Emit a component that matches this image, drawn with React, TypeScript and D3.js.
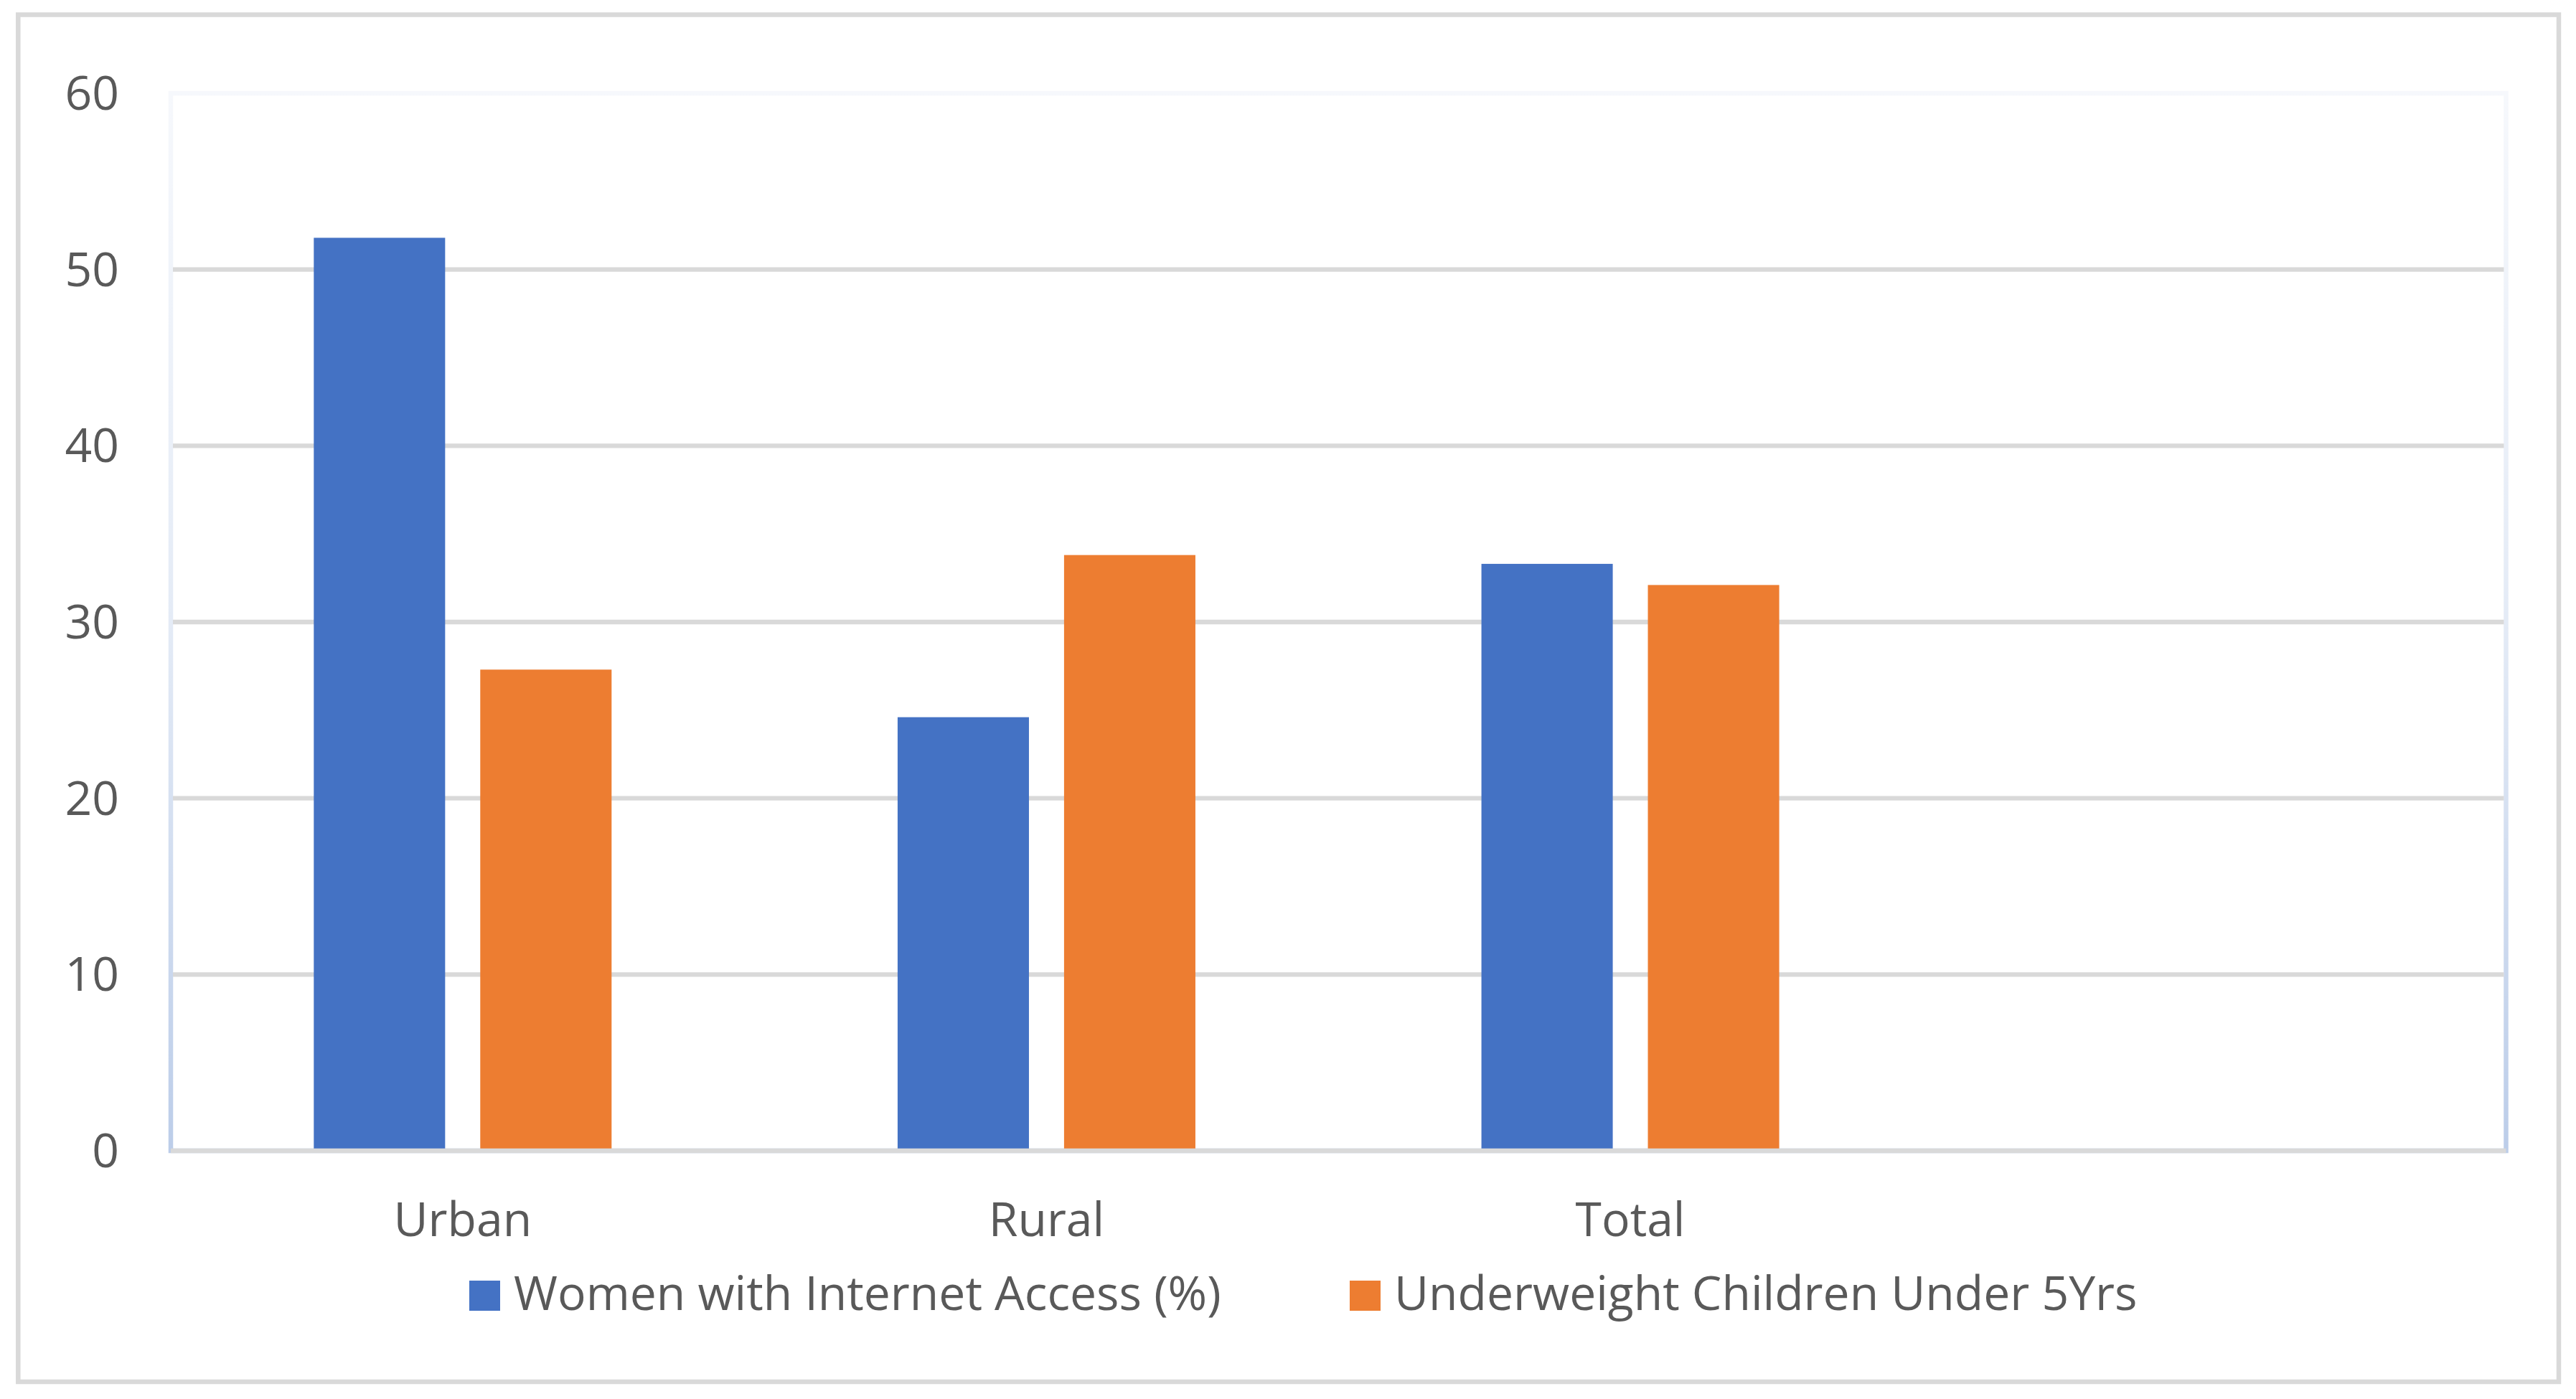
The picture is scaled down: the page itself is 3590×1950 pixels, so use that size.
import React from "react";
import * as d3 from "d3";

const categories = ["Urban", "Rural", "Total", ""];
const seriesNames = ["Women with Internet Access (%)", "Underweight Children Under 5Yrs"];
const womenInternet = [51.8, 24.6, 33.3, null];
const underweightChildren = [27.3, 33.8, 32.1, null];
const yTicks = [0, 10, 20, 30, 40, 50, 60];
const colors = ["#4472C4", "#ED7D31"];

const W = 3590;
const H = 1950;
const FONT = "'Open Sans', 'Noto Sans', sans-serif";
const TEXT = "#595959";

export default function App() {
  const plotL = 238, plotR = 3492.5, plotT = 130, plotB = 1604;
  const y = d3.scaleLinear().domain([0, 60]).range([plotB, plotT]);
  const x0 = d3.scaleBand<string>().domain(categories.map((c, i) => c + "#" + i)).range([plotL, plotR]).padding(0);
  const bw0 = x0.bandwidth();
  const groupW = 415;
  const gOff = (bw0 - groupW) / 2;
  const x1 = d3.scaleBand<string>().domain(seriesNames).range([gOff, gOff + groupW]).paddingInner(0.211).paddingOuter(0);
  const data = [womenInternet, underweightChildren];

  return (
    <svg width={W} height={H} style={{ position: "absolute", left: 0, top: 0, background: "#fff" }}>
      <defs>
        <linearGradient id="pb" x1="0" y1="0" x2="0" y2="1">
          <stop offset="0" stopColor="#f6f8fc" />
          <stop offset="0.5" stopColor="#e4ebf6" />
          <stop offset="1" stopColor="#bccde9" />
        </linearGradient>
      </defs>
      <rect x={0} y={0} width={W} height={H} fill="#fff" />
      <rect x={25.3} y={20.5} width={3566 - 25.3} height={1926 - 20.5} fill="#fff" stroke="#d9d9d9" strokeWidth={6.5} />
      {/* plot area border */}
      <rect x={plotL} y={plotT} width={plotR - plotL} height={plotB - plotT} fill="none" stroke="url(#pb)" strokeWidth={6.5} />
      {/* gridlines */}
      {yTicks.filter((t) => t > 0 && t < 60).map((t) => (
        <line key={t} x1={plotL + 3} x2={plotR - 3} y1={y(t)} y2={y(t)} stroke="#d9d9d9" strokeWidth={6.3} />
      ))}
      {/* bars */}
      {categories.map((c, i) =>
        data.map((s, j) => {
          const v = s[i];
          if (v == null) return null;
          const bx = (x0(c + "#" + i) as number) + (x1(seriesNames[j]) as number);
          return <rect key={i + "-" + j} x={bx} y={y(v)} width={x1.bandwidth()} height={y(0) - y(v)} fill={colors[j]} />;
        })
      )}
      {/* category axis line */}
      <line x1={plotL} x2={plotR} y1={y(0)} y2={y(0)} stroke="#d9d9d9" strokeWidth={6.5} />
      {/* y tick labels */}
      {yTicks.map((t) => (
        <text key={t} x={166} y={y(t)} dy="0.35em" textAnchor="end" fontFamily={FONT} fontSize={66} fill={TEXT}>
          {t}
        </text>
      ))}
      {/* category labels */}
      {categories.map((c, i) =>
        c ? (
          <text key={c} x={(x0(c + "#" + i) as number) + bw0 / 2} y={1723} textAnchor="middle" fontFamily={FONT} fontSize={66} fill={TEXT}>
            {c}
          </text>
        ) : null
      )}
      {/* legend */}
      {seriesNames.map((s, j) => {
        const lx = j === 0 ? 654 : 1881;
        return (
          <g key={s}>
            <rect x={lx} y={1785} width={43} height={42} fill={colors[j]} />
            <text x={lx + 62} y={1826} fontFamily={FONT} fontSize={66} fill={TEXT}>
              {s}
            </text>
          </g>
        );
      })}
    </svg>
  );
}
